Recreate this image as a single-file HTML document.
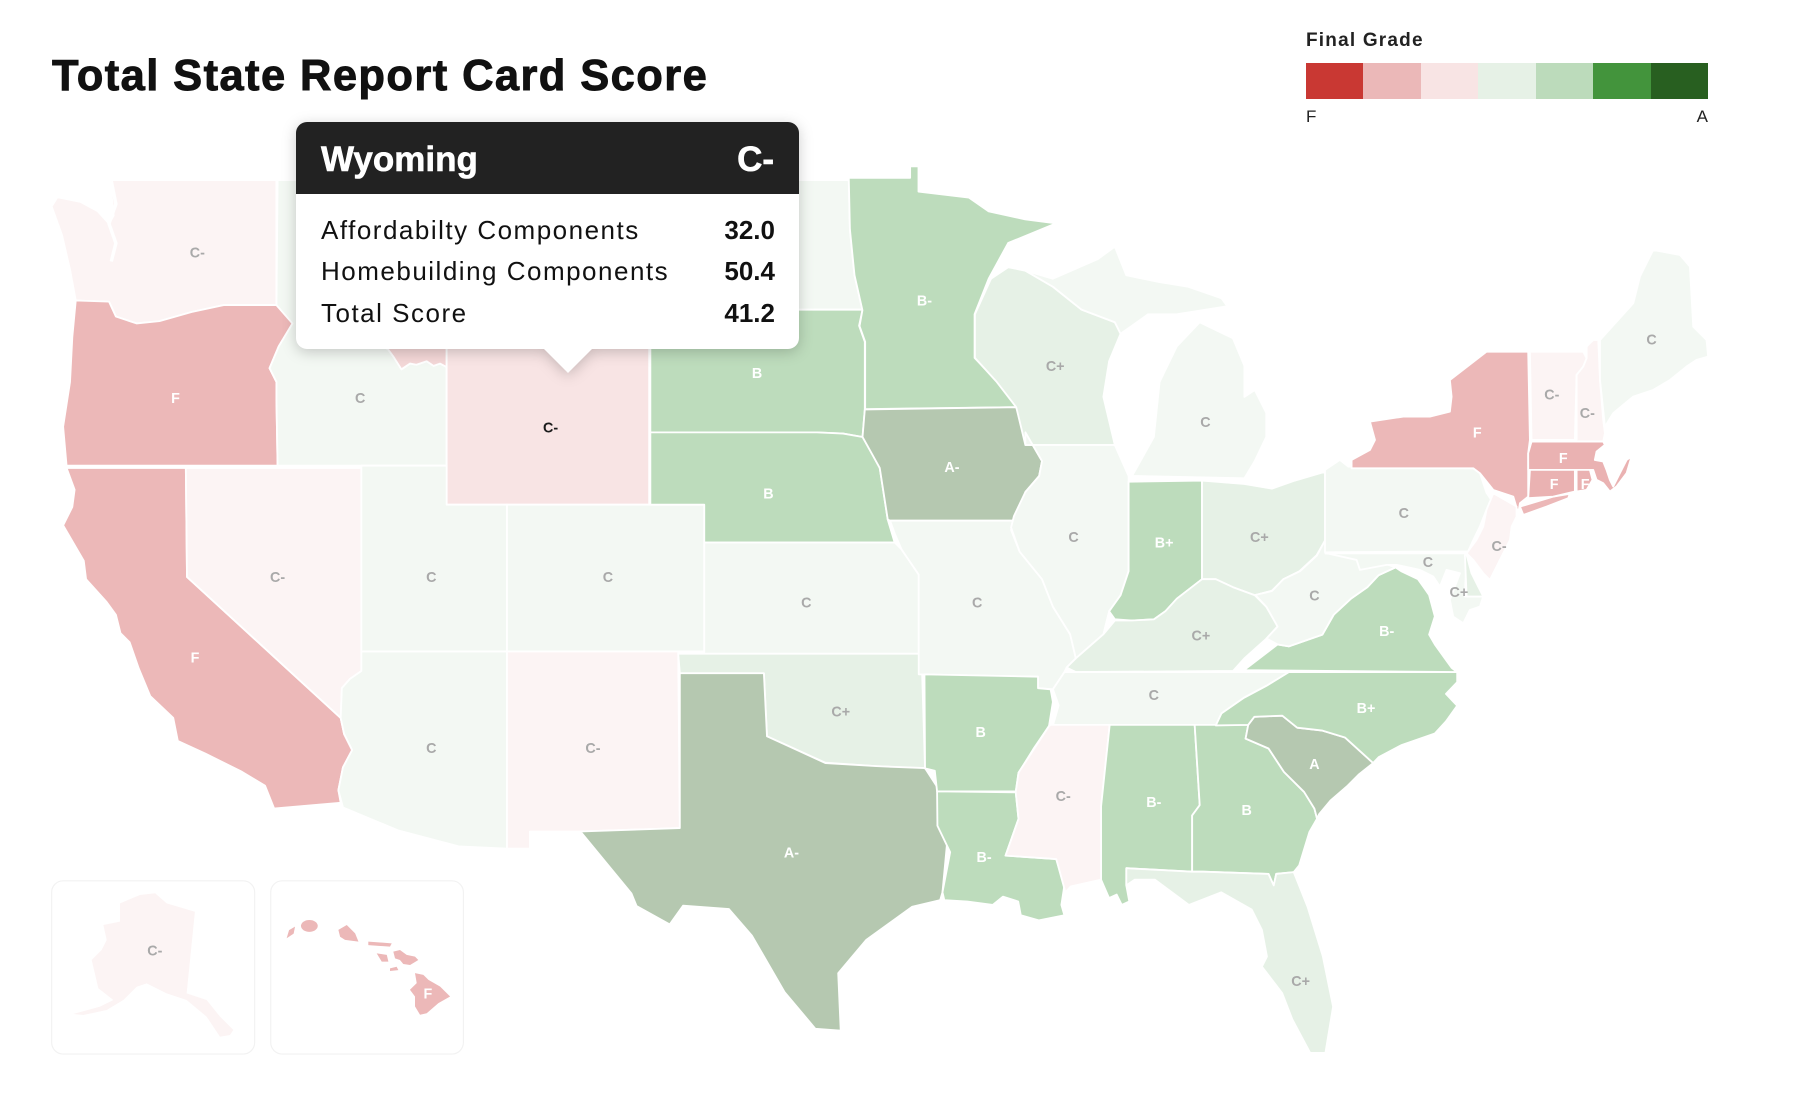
<!DOCTYPE html>
<html><head><meta charset="utf-8">
<style>
html,body{margin:0;padding:0;background:#fff;}
body{width:1798px;height:1096px;position:relative;overflow:hidden;font-family:"Liberation Sans",Arial,sans-serif;}
.abs{position:absolute;line-height:1;white-space:nowrap;}
#map{position:absolute;left:0;top:0;}
.title{left:52px;top:55px;font-size:43.5px;font-weight:bold;color:#111;letter-spacing:1.4px;-webkit-text-stroke:0.9px #111;}
.lg{left:1306px;top:30.5px;font-size:19px;font-weight:bold;color:#222;letter-spacing:1.2px;}
.bar{position:absolute;left:1306px;top:63px;width:402px;height:36px;display:flex;}
.bar div{flex:1;height:36px;}
.lf{left:1306px;top:108px;font-size:17px;color:#222;}
.la{left:1693px;top:108px;font-size:17px;color:#222;width:15px;text-align:right;}
#tipwrap{position:absolute;left:296px;top:121.5px;width:503px;height:252px;filter:drop-shadow(0 3px 7px rgba(0,0,0,0.20));}
#tip{position:absolute;left:0;top:0;width:503px;height:227.5px;background:#fff;border-radius:11px;overflow:hidden;}
#tiphead{position:absolute;left:0;top:0;width:503px;height:72px;background:#222222;}
#arrow{position:absolute;left:247.5px;top:227px;width:0;height:0;border-left:24px solid transparent;border-right:24px solid transparent;border-top:24px solid #fff;}
.tt{font-size:35px;font-weight:bold;color:#fff;-webkit-text-stroke:0.6px #fff;}
.row{font-size:26px;color:#111;letter-spacing:1.5px;}
.val{font-size:26px;font-weight:bold;color:#111;text-align:right;width:100px;}
</style></head><body>

<svg id="map" width="1798" height="1096" viewBox="0 0 1567.6 955.6" xmlns="http://www.w3.org/2000/svg">
<g stroke="#ffffff" stroke-width="1.6" stroke-linejoin="round">
<!-- West -->
<polygon fill="#fcf4f4" points="45,180 50,172 70,176 85,184 95,195 99,188 96,157 241,157 241,266 227,266 195,266 167,272 139,280 119,282 101,276 95,263 66,262 61,235 54,205"/>
<polygon fill="#ecb8b8" points="66,262 95,263 101,276 119,282 139,280 167,272 195,266 241,266 255,282 243,302 235,321 241,333 241,349 242,406 58,406 55,372 61,333 63,294"/>
<polygon fill="#ecb8b8" points="58,408 162,408 163,503 297,626 300,640 307,654 299,669 295,689 297,700 239,705 231,685 211,673 179,657 155,646 151,626 131,607 121,583 113,560 105,552 101,536 93,525 75,505 73,489 55,458 63,442 65,427"/>
<polygon fill="#fcf4f4" points="162,408 315,408 315,585 305,592 298,600 297,626 163,503"/>
<polygon fill="#f3f8f3" points="242,157 262,157 262,215 280,240 300,265 320,290 338.6,305 343,311 350,322 357.5,317 363,318 372,315 378,319 383.6,317 389.4,320 389.4,406 242,406 241,349 241,333 235,321 243,302 255,282 241,266"/>
<polygon fill="#f4d8d8" points="262,157 567,157 567,292 389.4,292 389.4,320 383.6,317 378,319 372,315 363,318 357.5,317 350,322 343,311 338.6,305 320,290 300,265 280,240 262,215"/>
<polygon fill="#f8e4e4" points="389.4,292 566,292 566,440 389.4,440"/>
<polygon fill="#f3f8f3" points="315,406 389.4,406 389.4,440 442,440 442,568 315,568"/>
<polygon fill="#f3f8f3" points="442,440 614,440 614,568 442,568"/>
<polygon fill="#f3f8f3" points="315,568 442,568 442,740 400,738 347,724 299,704 295,689 299,669 307,654 300,640 297,626 298,600 305,592 315,585"/>
<polygon fill="#fcf4f4" points="442,568 591.3,568 592.7,722 506,725 462,725 462,740 442,740"/>
<!-- Plains -->
<polygon fill="#f3f8f3" points="567,157 740,157 741,200 745,240 752,270 567,270"/>
<polygon fill="#bddcbc" points="567,270 752,270 749,284 754,298 754,357 752,381 735,378 712,377 567,377"/>
<polygon fill="#bddcbc" points="567,377 712,377 735,378 752,381 760,395 767,408 774,453 780,473 614,473 614,440 567,440"/>
<polygon fill="#f3f8f3" points="614,473 780,473 786,479 801,501 801,570 614,570"/>
<polygon fill="#e6f1e6" points="591.3,570 801,570 804,588 806.5,670 764,668 719.6,665 688.5,651 668.7,642 666,587 592.7,587"/>
<polygon fill="#b5c8b0" points="592.7,587 666,587 668.7,642 688.5,651 719.6,665.3 764,668 806.5,669.7 817,686 826,732 821.7,778 819.7,784.8 795.3,790.6 755.3,819.5 730.8,848.5 733,898.6 710.9,897 684,865 655.5,815.7 635.5,792.6 595.5,789.7 583.9,806 555,790 550.5,779 506,725 592.7,722"/>
<polygon fill="#bddcbc" points="740,155 793.5,155 793.5,145 800.8,145 800.8,167 844.8,172.3 862,184.3 893.8,191.2 920.7,194.7 879,211.9 862,243 849.7,274 849.7,312 869.3,332.6 886.4,355 754.3,356.7 754.3,298 749.4,284.3 751.9,270.5 745,240 741,200"/>
<polygon fill="#b5c8b0" points="754,357 886,355 894,377 908.5,402 906,415 894,429 891,443 886,454 776,454 774,453 767,408 752,381"/>
<polygon fill="#f3f8f3" points="776,454 886,454 881.5,462 889,481 908.5,505 918,529 933,553 938,574 930,582 928,586 918,601 905,600 905,590 801,588 801,501 786,479 780,465"/>
<polygon fill="#bddcbc" points="806,588 905,590 905,600 916,601 918,612 914.6,633 901,653 888,674 885.6,690 817,690 815,672 806.5,670"/>
<polygon fill="#bddcbc" points="817,690 885.6,690.8 888,714 876.7,746 920.9,749 928,772 925.4,789 928,798 905.7,802.5 890,798 887.7,786 874.4,781.8 865.5,789 843.3,786 823.3,784.8 821.7,778 828.4,743 817.3,720"/>
<!-- Midwest / Great Lakes -->
<polygon fill="#e6f1e6" points="850,274 864,243 879,233 894,236 918,250 943,270 972,281 977,291 967,315 962,346 972,388 894,388 886,355 869,333 850,312"/>
<polygon fill="#f3f8f3" points="894,236 918,243 957,226 972,215 982,240 1011,246 1036,250 1065,260 1070,267 1026,274 1001,274 987,284 977,291 972,281 943,270 918,250"/>
<polygon fill="#f3f8f3" points="987,415 1006,381 1011,333 1026,302 1046,281 1075,295 1085,319 1085,346 1094,340 1104,360 1104,381 1094,402 1085,417"/>
<polygon fill="#f3f8f3" points="894,388 972,388 984,415 984,498 977,519 967,533 962,553 938,574 933,553 918,529 908.5,505 889,481 881.5,460 884,450 894,429 906,415 908.5,402 894,377"/>
<polygon fill="#bddcbc" points="984,420 1048,419 1048,505 1026,522 1016,533 1006,540 987,541 972,540 967,533 977,519 984,498"/>
<polygon fill="#e6f1e6" points="1048,419 1085,422 1109,426 1129,419 1153,412 1156,412 1156,470 1148,484 1133,498 1119,505 1109,515 1094,519 1075,512 1060,505 1048,505"/>
<polygon fill="#e6f1e6" points="930,582 938,574 962,553 972,541 987,541 1006,540 1016,533 1026,522 1048,505 1060,505 1075,512 1094,519 1104,529 1114,546 1104,557 1085,574 1075,585 938,586"/>
<polygon fill="#f3f8f3" points="928,586 1124,586 1104,598 1085,608 1065,622 1060,632.5 918,632.5 923,615 918,601"/>
<!-- South -->
<polygon fill="#fcf4f4" points="916,632 967.5,632 960,703 960,767 933.4,773 928.9,778 920.9,749 876.7,746 888,714 885.6,690.8 888,673.7 901.3,653.4 914.6,633"/>
<polygon fill="#bddcbc" points="967.5,632 1041.6,632 1046,702 1039.4,711 1039.4,760 982,757 982,772 984.6,786 978,789 973.6,780 966.9,783 960,767 960,703"/>
<polygon fill="#bddcbc" points="1041.6,632 1088.3,632 1086,644 1106,652.6 1119.4,673 1137,690.5 1146,705 1148.3,713.8 1141.6,725.5 1132.7,754.6 1128,760.4 1112.7,761.8 1110.5,772 1106,762 1049,760 1039.4,760 1039.4,711 1046,702"/>
<polygon fill="#e6f1e6" points="982,757 1039,760 1049,760 1106,762 1110.5,772 1112.7,762 1128,760.4 1140,790.5 1153.4,834 1162.3,877.7 1155.6,918 1142.3,918 1126.8,889 1117.9,866 1100.2,842.8 1104.6,834 1100.2,810.8 1091.3,793 1064.7,778 1036.5,789 1007,767 989.4,767 982,772"/>
<polygon fill="#b5c8b0" points="1088.3,632 1093.6,625 1118,624 1131,634.5 1153,637 1172.6,643 1197.2,665.3 1185,675 1175,685 1160,698 1150,710 1148.3,713.8 1146,705 1137,690.5 1119.4,673 1106,652.6 1086,644"/>
<polygon fill="#bddcbc" points="1060,632.5 1065,622 1084.6,608.4 1104.2,598 1123.7,586 1270.5,586 1270.5,594.8 1260.7,605 1270.5,615.3 1260.7,629 1251,639.5 1221.6,649.8 1202,660.2 1197.2,665.3 1172.6,643 1153,637 1131,634.5 1118,624 1093.6,625 1088.3,632"/>
<polygon fill="#bddcbc" points="1084.6,584.3 1113.9,561.9 1123.7,563.6 1153,553.3 1162.8,536 1177.6,522.2 1192.2,511.9 1202,501.5 1216.7,494.7 1221.6,498 1236.3,505 1241.2,511.9 1246,518.8 1251,537.4 1246,553.3 1251,561.9 1260.7,575.4 1265.6,582.2 1270.5,586"/>
<polygon fill="#f3f8f3" points="1155.6,470.5 1155.6,482.6 1182.5,482.6 1185,494.7 1207,491.2 1216.7,494.7 1202,501.5 1192.2,511.9 1177.6,522.2 1162.8,536 1153,553.3 1123.7,563.6 1113.9,561.9 1104.2,556.7 1113.9,546.4 1104.2,529.1 1094.4,518.8 1109,515.3 1118.9,505 1133.5,498 1148.2,484.3"/>
<!-- Northeast -->
<polygon fill="#f3f8f3" points="1155.2,409.7 1168.2,401 1175.5,406.8 1284.5,408.3 1290.3,412.6 1296,429.6 1302,438.4 1296,444.6 1290.3,459 1284.5,471 1280,480.8 1155.2,481.5"/>
<polygon fill="#ecb8b8" points="1178.4,401 1194.4,392.3 1198.8,383.6 1194.4,367.6 1223.5,363.2 1246.7,363.2 1264.1,358.9 1265.6,345.8 1264.1,331.3 1296.1,306.6 1332.4,306.6 1333.9,383.6 1332.4,395.2 1332.4,433 1325.2,438.8 1323.7,447.5 1319.4,433 1302,427.2 1290.3,412.6 1284.5,408.3 1178.4,408.3"/>
<polygon fill="#ecb8b8" points="1325.2,441.7 1354.2,433 1368.7,430.6 1367.3,434.4 1348.4,441.7 1328.1,449"/>
<polygon fill="#fcf4f4" points="1333.9,306.6 1380.4,306.6 1383.3,312.4 1380.4,319.6 1374.6,326.9 1373.1,383.6 1335.3,383.6"/>
<polygon fill="#fcf4f4" points="1374.6,326.9 1380.4,319.6 1383.3,312.4 1383.3,302.2 1389.1,296.4 1393.5,296.4 1395,331.3 1397.8,366.1 1399.3,377.8 1397.8,385 1374.6,385"/>
<polygon fill="#f3f8f3" points="1395,296.4 1424,264.4 1429.8,241.2 1441.4,217.9 1464.7,222.3 1473.4,232.4 1476.3,284.8 1487.9,296.4 1489.3,310.9 1479.2,313.8 1470.5,319.6 1456,331.3 1441.4,340 1424,345.8 1406.5,360.3 1399.3,372 1395,331.3"/>
<polygon fill="#eab2b2" points="1335.3,385 1397.8,385 1399.3,387.9 1392,393.7 1390.5,401 1397.8,402.4 1400.7,409.7 1403.6,418.4 1406.5,424.2 1412.3,412.6 1418.2,401 1422.5,398.1 1418.2,412.6 1409.4,424.2 1403.6,428.6 1397.8,421.3 1392,418.4 1389.1,409.7 1332.4,409.7 1332.4,395.2"/>
<polygon fill="#eab2b2" points="1333.9,409.7 1373.1,409.7 1373.1,428.6 1354.2,433 1332.4,434.4"/>
<polygon fill="#eab2b2" points="1374.6,409.7 1386.2,409.7 1388.5,418.4 1383.3,427.2 1374.6,428.6"/>
<polygon fill="#fcf4f4" points="1302,430 1322.3,441.7 1322.3,450.4 1318,459.1 1316.5,470.7 1307.7,488.2 1299,505.6 1293.2,499.8 1284.5,488.2 1278.7,482.4 1287.4,470.7 1293.2,459.1 1296,444.6"/>
<polygon fill="#f3f8f3" points="1156.6,482.4 1278.7,482.4 1277.2,520.1 1293.2,520.1 1290.3,528.9 1281.6,531.8 1275.8,543.4 1267,537.6 1264.1,523 1272.9,499.8 1261.2,496.9 1255.4,511.4 1249.6,502.7 1238,496.9 1217.6,492.5 1209,492.5 1185.7,496.9 1182.8,488.2"/>
<polygon fill="#e6f1e6" points="1278.7,483.8 1283,499.8 1288.8,511.4 1293.2,520.1 1278.7,520.1 1277.2,483.8"/>
<!-- Insets -->
<rect x="45" y="768" width="177" height="151" rx="10" fill="#fff" stroke="#f2f2f2" stroke-width="1"/>
<rect x="236" y="768" width="168" height="151" rx="10" fill="#fff" stroke="#f2f2f2" stroke-width="1"/>
<polygon fill="#fcf4f4" stroke="none" points="104.6,787.6 122,780.3 135.2,778.8 145.3,787.6 169.9,794.9 162.7,866.1 180.1,871.9 191.8,886.4 203.4,898 200.5,902.4 191.8,903.9 180.1,886.4 162.7,871.9 145.3,866.1 127.9,857.4 119.2,860.3 107.5,871.9 93,880.6 72.6,885 63.9,884.1 87.2,877.7 98.8,871.9 85.7,861.7 79.9,837 88.6,828.3 93,819.6 90.1,806.5 104.6,803.6"/>
<g fill="#ecb8b8" stroke="none">
<polygon points="249.9,818.1 252,811 257.2,807.9 256,814"/>
<ellipse cx="269.7" cy="807.3" rx="7.3" ry="5.2"/>
<polygon points="295,810.8 302.3,806.5 309.6,813.8 312.5,821 300.8,819.5 296.5,816.7"/>
<polygon points="321.1,821 341.5,822.5 340,825.4 321.1,824"/>
<polygon points="342.9,829.7 348.7,828.3 354.5,832.6 361.8,834.1 364.7,837 357.5,841.4 351.6,840.5 348.7,837 344.4,835.6"/>
<polygon points="328.4,831.2 337.2,832.6 338.6,838.4 332.8,838.4"/>
<polygon points="340,844.3 345.8,842.9 347.3,845.8 340,846.6"/>
<polygon points="361.8,848.5 369.1,850 373.5,854.3 383.6,860.1 392.4,868.8 382.2,874.6 372,883.4 366.2,884.8 361.8,877.5 361.8,868.8 357.4,863 363.3,857.2"/>
</g>
</g>
<polyline points="97,158 101,178 95,195 101,212 97,228" fill="none" stroke="#fff" stroke-width="3"/>

<g font-family="Liberation Sans, Arial, sans-serif" font-weight="bold" font-size="12.5" text-anchor="middle">
<g fill="#a9a9a9">
<text x="172" y="224.5">C-</text>
<text x="242" y="507.5">C-</text>
<text x="314" y="351.5">C</text>
<text x="376" y="507.5">C</text>
<text x="530" y="507.5">C</text>
<text x="376" y="656.5">C</text>
<text x="517" y="656.5">C-</text>
<text x="703" y="529.5">C</text>
<text x="733" y="624.5">C+</text>
<text x="852" y="529.5">C</text>
<text x="927" y="698.5">C-</text>
<text x="1134" y="859.5">C+</text>
<text x="1006" y="610.5">C</text>
<text x="1047" y="558.5">C+</text>
<text x="1146" y="523.5">C</text>
<text x="1098" y="472.5">C+</text>
<text x="936" y="472.5">C</text>
<text x="920" y="323.5">C+</text>
<text x="1051" y="372.5">C</text>
<text x="1224" y="451.5">C</text>
<text x="1353" y="348.5">C-</text>
<text x="1384" y="364.5">C-</text>
<text x="1440" y="300.5">C</text>
<text x="1307" y="480.5">C-</text>
<text x="1245" y="494.5">C</text>
<text x="1272" y="520.5">C+</text>
<text x="135" y="833">C-</text>
</g>
<text x="480" y="377" fill="#1a1a1a">C-</text>
<g fill="#ffffff">
<text x="153" y="351.5">F</text>
<text x="170" y="577.5">F</text>
<text x="660" y="329.5">B</text>
<text x="670" y="434.5">B</text>
<text x="690" y="747.5">A-</text>
<text x="806" y="266.5">B-</text>
<text x="830" y="411.5">A-</text>
<text x="855" y="642.5">B</text>
<text x="858" y="751.5">B-</text>
<text x="1006" y="703.5">B-</text>
<text x="1087" y="710.5">B</text>
<text x="1146" y="670.5">A</text>
<text x="1191" y="621.5">B+</text>
<text x="1209" y="554.5">B-</text>
<text x="1015" y="477.5">B+</text>
<text x="1288" y="381.5">F</text>
<text x="1363" y="403.5">F</text>
<text x="1355" y="426.5">F</text>
<text x="1382" y="426.5">F</text>
<text x="373" y="870.5">F</text>
</g>
</g>
</svg>

<div class="abs title">Total State Report Card Score</div>

<div class="abs lg">Final Grade</div>
<div class="bar"><div style="background:#c93833"></div><div style="background:#ebb8b8"></div><div style="background:#f8e4e4"></div><div style="background:#e6f1e6"></div><div style="background:#bcdbbb"></div><div style="background:#43943c"></div><div style="background:#285f20"></div></div>
<div class="abs lf">F</div>
<div class="abs la">A</div>

<div id="tipwrap">
  <div id="arrow"></div>
  <div id="tip">
    <div id="tiphead"></div>
  </div>
</div>
<div class="abs tt" style="left:321px;top:142.4px;">Wyoming</div>
<div class="abs tt" style="left:674px;top:142.4px;width:100px;text-align:right;">C-</div>
<div class="abs row" style="left:321px;top:217.3px;">Affordabilty Components</div>
<div class="abs row" style="left:321px;top:258px;">Homebuilding Components</div>
<div class="abs row" style="left:321px;top:299.7px;">Total Score</div>
<div class="abs val" style="left:675px;top:217.3px;">32.0</div>
<div class="abs val" style="left:675px;top:258px;">50.4</div>
<div class="abs val" style="left:675px;top:299.7px;">41.2</div>

</body></html>
